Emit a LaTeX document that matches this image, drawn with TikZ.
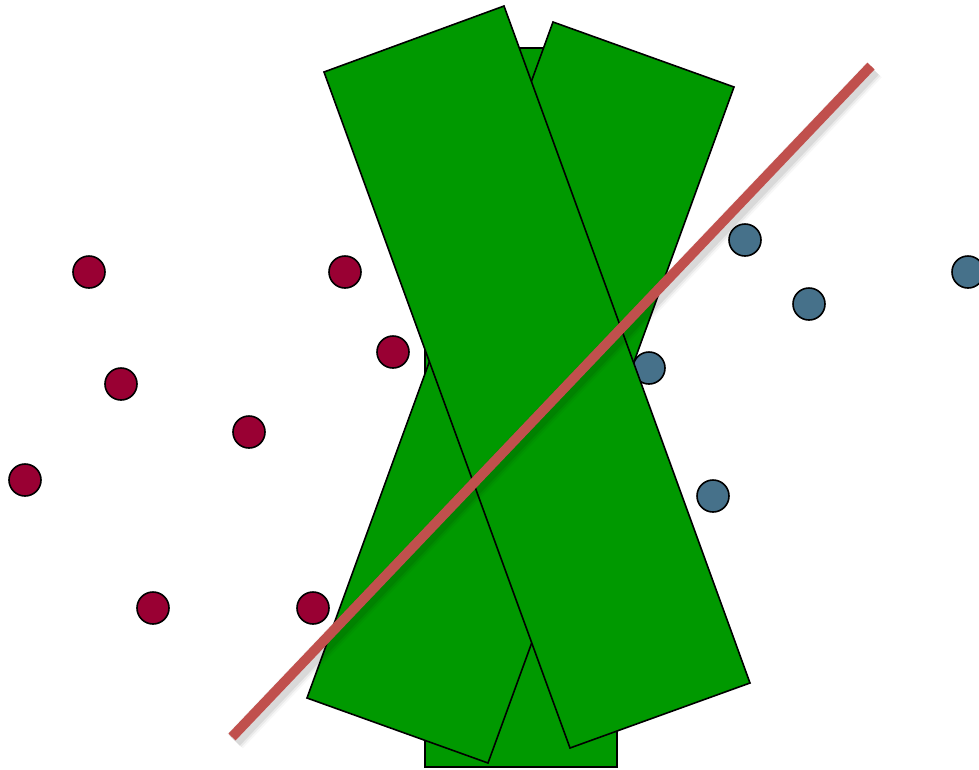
\documentclass[tikz,border=0pt]{standalone}
\usetikzlibrary{calc}
\definecolor{boxgreen}{HTML}{009900}
\definecolor{reddot}{HTML}{990033}
\definecolor{bluedot}{HTML}{46718A}
\definecolor{sepline}{HTML}{C0504D}
\tikzset{
  box/.style={draw=black, fill=boxgreen, line width=1.2pt, line join=miter},
  rdot/.style={circle, draw=black, fill=reddot, line width=1.2pt, minimum size=24pt, inner sep=0pt},
  bdot/.style={circle, draw=black, fill=bluedot, line width=1.2pt, minimum size=24pt, inner sep=0pt},
  sep/.style={draw=sepline, line width=7.4pt}
}
\begin{document}
\begin{tikzpicture}[x=0.75pt,y=-0.75pt]
\useasboundingbox (0,0) rectangle (979,769);
% dots
\node[rdot] (r1) at (89,272) {};
\node[rdot] (r2) at (345,272) {};
\node[rdot] (r3) at (393,352) {};
\node[rdot] (r4) at (121,384) {};
\node[rdot] (r5) at (249,432) {};
\node[rdot] (r6) at (25,480) {};
\node[rdot] (r7) at (153,608) {};
\node[rdot] (r8) at (313,608) {};
\node[bdot] (b1) at (745,240) {};
\node[bdot] (b2) at (809,304) {};
\node[bdot] (b3) at (968,272) {};
\node[bdot] (b4) at (649,368) {};
\node[bdot] (b5) at (713,496) {};
% boxes
\draw[box] (425,48) rectangle (617,767);
\draw[box] (553,22) -- (734,87) -- (488,763) -- (307,698) -- cycle;
\draw[box] (324,72) -- (504,6) -- (750,683) -- (570,748) -- cycle;
% separating line with soft shadow
\coordinate (la) at (232,737);
\coordinate (lb) at (871,66);
\foreach \w/\o in {16/0.03,13/0.05,10/0.07}{
  \draw[draw=black, line width=\w pt, opacity=\o] ($(la)+(3,4)$) -- ($(lb)+(3,4)$);
}
\draw[sep] (la) -- (lb);
\end{tikzpicture}
\end{document}
